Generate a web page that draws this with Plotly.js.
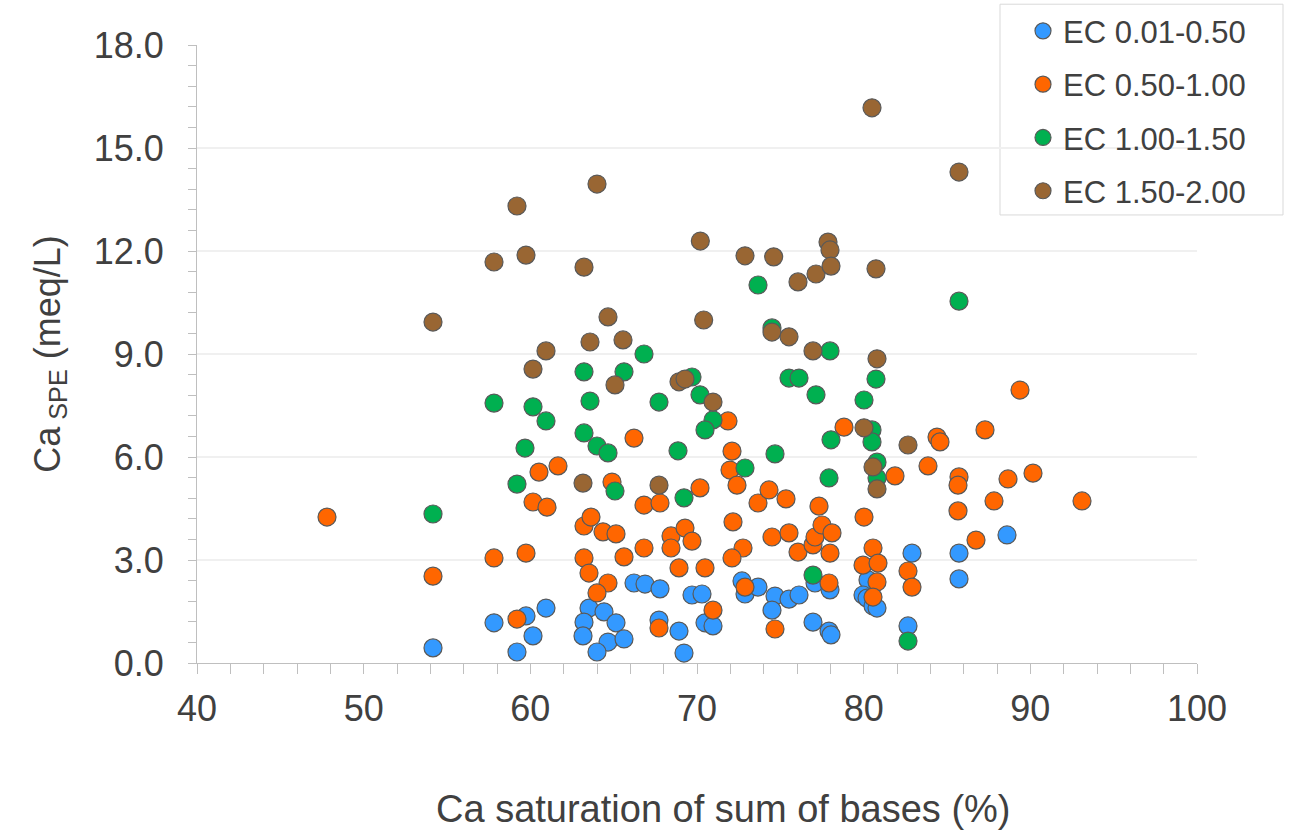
<!DOCTYPE html>
<html>
<head>
<meta charset="utf-8">
<script src="https://cdn.plot.ly/plotly-3.0.1.min.js"></script>
<style>html,body{margin:0;padding:0;background:#fff;}#chart{width:1291px;height:832px;}</style>
</head>
<body>
<div id="chart"></div>
<script>
// Series names
const seriesNames = ["EC 0.01-0.50", "EC 0.50-1.00", "EC 1.00-1.50", "EC 1.50-2.00"];

// EC 0.01-0.50 (blue)
const blueX = [54.16,57.82,59.74,59.2,60.94,60.16,63.52,64.42,63.22,65.14,63.16,64.66,65.62,64.0,66.22,66.88,67.78,69.7,67.72,68.92,69.22,70.3,70.48,70.96,72.7,72.88,73.66,74.68,75.52,76.12,74.5,76.96,77.08,77.98,77.92,78.04,80.26,79.96,80.2,80.56,80.8,82.66,82.9,85.72,85.72,88.6];
const blueY = [0.44,1.17,1.37,0.32,1.60,0.79,1.60,1.49,1.19,1.17,0.79,0.61,0.70,0.32,2.33,2.30,2.16,1.98,1.25,0.93,0.29,2.01,1.17,1.08,2.39,2.01,2.21,1.95,1.86,1.98,1.54,1.19,2.33,2.13,0.93,0.82,2.42,1.98,1.89,1.66,1.60,1.08,3.20,3.20,2.45,3.73];

// EC 0.50-1.00 (orange)
const orangeX = [47.8,54.16,57.82,59.74,59.2,60.52,61.66,60.16,61.0,63.22,63.64,64.36,65.14,64.9,63.22,63.52,65.62,64.66,64.0,66.22,66.82,67.78,66.82,68.44,69.28,68.44,69.7,68.92,67.72,70.18,70.48,70.96,71.86,72.1,71.98,72.4,72.16,72.76,72.1,72.88,73.66,74.32,75.34,74.5,75.52,74.68,76.06,76.96,77.08,77.5,77.32,78.1,77.98,77.92,78.82,80.02,80.56,79.96,80.86,80.8,80.56,81.88,83.86,84.4,84.58,82.66,82.9,85.72,85.66,85.66,86.74,87.28,87.82,88.66,89.38,90.16,93.1];
const orangeY = [4.25,2.53,3.06,3.20,1.28,5.56,5.74,4.69,4.54,3.99,4.25,3.82,3.76,5.27,3.06,2.62,3.09,2.33,2.04,6.55,4.60,4.66,3.35,3.70,3.93,3.35,3.55,2.77,1.02,5.10,2.77,1.54,7.05,6.17,5.62,5.18,4.11,3.35,3.06,2.21,4.66,5.04,4.78,3.67,3.79,0.99,3.23,3.44,3.67,4.02,4.57,3.79,3.20,2.33,6.87,4.25,3.35,2.85,2.91,2.36,1.92,5.45,5.74,6.58,6.44,2.68,2.21,5.42,5.18,4.43,3.58,6.79,4.72,5.36,7.95,5.53,4.72];

// EC 1.00-1.50 (green)
const greenX = [54.16,57.82,60.16,60.94,59.68,59.2,63.58,63.22,64.0,64.66,65.08,63.22,65.62,66.82,67.72,68.86,69.22,69.7,70.18,70.96,70.48,72.88,73.66,74.5,74.68,75.52,76.12,77.14,77.98,78.04,77.92,76.96,80.02,80.74,80.5,80.5,80.8,80.8,82.66,85.72];
const greenY = [4.34,7.57,7.46,7.05,6.26,5.21,7.63,6.70,6.32,6.12,5.01,8.48,8.48,9.0,7.60,6.18,4.81,8.33,7.81,7.08,6.79,5.68,11.01,9.76,6.09,8.30,8.30,7.81,9.09,6.50,5.39,2.56,7.66,8.27,6.79,6.44,5.85,5.39,0.64,10.54];

// EC 1.50-2.00 (brown)
const brownX = [54.16,57.82,59.2,59.74,60.16,60.94,63.22,64.0,64.66,63.58,65.56,65.08,63.16,67.72,68.92,69.28,70.2,70.4,70.96,72.88,74.6,74.5,75.52,76.06,77.14,76.96,77.86,77.98,78.04,80.74,80.5,80.8,85.72,80.02,82.66,80.56,80.8];
const brownY = [9.93,11.68,13.31,11.88,8.56,9.09,11.53,13.95,10.08,9.35,9.41,8.10,5.24,5.18,8.19,8.27,12.29,9.99,7.60,11.86,11.83,9.64,9.50,11.10,11.33,9.09,12.26,12.03,11.56,11.48,16.17,8.86,14.30,6.85,6.35,5.71,5.07];

const xTitle = "Ca saturation of sum of bases (%)";
const yTitle = "Ca<sub> SPE</sub> (meq/L)";

const colors = ["#3399FF", "#FF6600", "#00B050", "#996633"];
const xs = [blueX, orangeX, greenX, brownX];
const ys = [blueY, orangeY, greenY, brownY];

const font = "Arial, 'Liberation Sans', sans-serif";
const txt = "#404040";

const traces = seriesNames.map((n, i) => ({
  type: "scatter",
  mode: "markers",
  name: n,
  legendgroup: "g" + i,
  x: xs[i],
  y: ys[i],
  cliponaxis: false,
  marker: {size: 18, color: colors[i], line: {color: "#595959", width: 1.2}}
}));

const layout = {
  width: 1291,
  height: 832,
  paper_bgcolor: "#ffffff",
  plot_bgcolor: "#ffffff",
  margin: {l: 197, r: 94, t: 45, b: 169, autoexpand: false},
  font: {family: font, color: txt},
  showlegend: true,
  legend: {
    x: 0.826, y: 1.066, xanchor: "left", yanchor: "top",
    borderwidth: 0, bgcolor: "rgba(0,0,0,0)",
    font: {size: 31, family: font, color: txt},
    traceorder: "grouped", tracegroupgap: 10, itemsizing: "trace"
  },
  shapes: [{
    type: "rect", xref: "paper", yref: "paper",
    x0: 0.803, x1: 1.086, y0: 0.725, y1: 1.066,
    line: {color: "#D9D9D9", width: 1}, fillcolor: "rgba(255,255,255,0)", layer: "below"
  }],
  annotations: [{
    text: xTitle, xref: "paper", yref: "paper", x: 0.526, y: -0.236,
    xanchor: "center", yanchor: "middle", showarrow: false,
    font: {size: 38, family: font, color: txt}
  }],
  xaxis: {
    range: [40, 100], dtick: 10, tick0: 40,
    showgrid: false, zeroline: false,
    showline: true, linecolor: "#BFBFBF", linewidth: 1,
    ticks: "outside", ticklen: 10, tickcolor: "#BFBFBF",
    ticklabelstandoff: 4,
    minor: {dtick: 2, ticks: "outside", ticklen: 10, tickcolor: "#BFBFBF", showgrid: false},
    tickfont: {size: 36, family: font, color: txt}
  },
  yaxis: {
    range: [0, 18], dtick: 3, tick0: 0, tickformat: ".1f",
    showgrid: true, gridcolor: "#F0F0F0", gridwidth: 1.5, zeroline: false,
    showline: true, linecolor: "#BFBFBF", linewidth: 1,
    ticks: "outside", ticklen: 8, tickcolor: "#BFBFBF",
    ticklabelstandoff: 17,
    minor: {dtick: 0.6, ticks: "outside", ticklen: 8, tickcolor: "#BFBFBF", showgrid: false},
    tickfont: {size: 36, family: font, color: txt},
    title: {text: yTitle, font: {size: 36, family: font, color: txt}, standoff: 22}
  }
};

Plotly.newPlot("chart", traces, layout, {displayModeBar: false, staticPlot: true});
</script>
</body>
</html>
